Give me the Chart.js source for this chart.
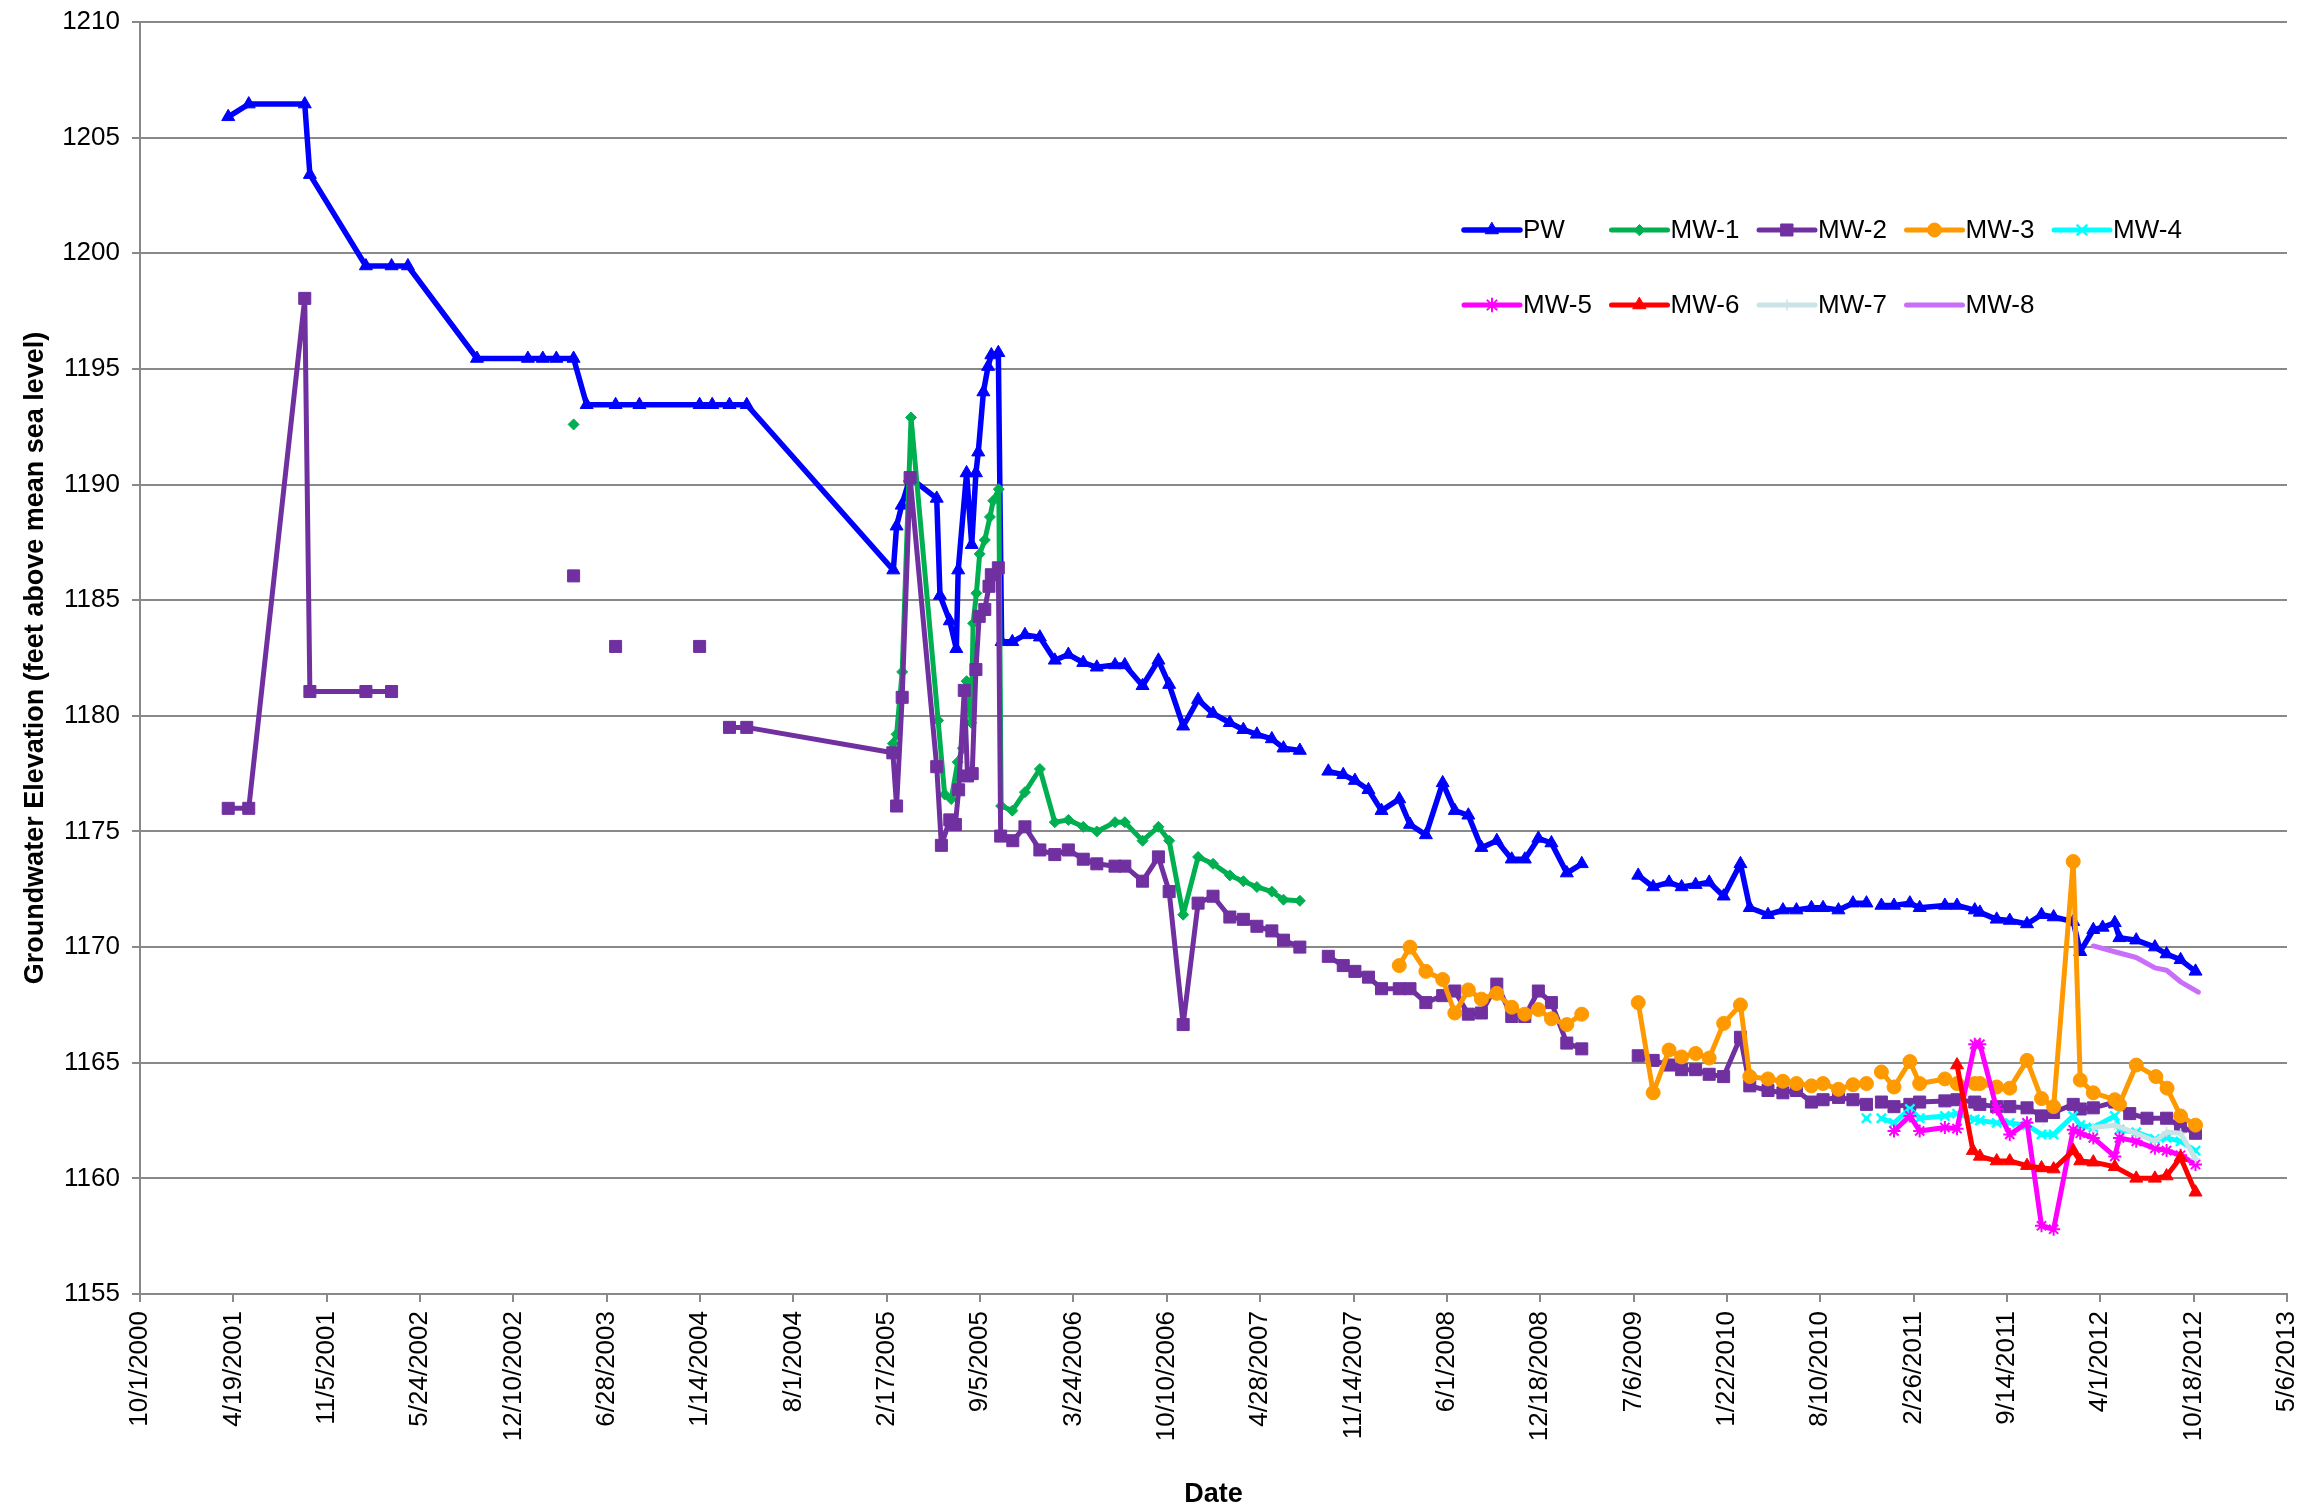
<!DOCTYPE html>
<html>
<head>
<meta charset="utf-8">
<title>Groundwater Elevation</title>
<script src="https://cdn.jsdelivr.net/npm/chart.js@4.4.1/dist/chart.umd.min.js"></script>
<style>
  html, body { margin: 0; padding: 0; background: #ffffff; }
  #wrap { width: 2309px; height: 1511px; }
</style>
</head>
<body>
<div id="wrap"><canvas id="chart" width="2309" height="1511"></canvas></div>
<script>
// ---- Axis tick labels (every 200 days) ----
const xTickLabels = ['10/1/2000','4/19/2001','11/5/2001','5/24/2002','12/10/2002','6/28/2003',
  '1/14/2004','8/1/2004','2/17/2005','9/5/2005','3/24/2006','10/10/2006','4/28/2007',
  '11/14/2007','6/1/2008','12/18/2008','7/6/2009','1/22/2010','8/10/2010','2/26/2011',
  '9/14/2011','4/1/2012','10/18/2012','5/6/2013'];
const yMin = 1155, yMax = 1210, yStep = 5;

// ---- PW ----
const pwDates = ['2001-04-08','2001-05-22','2001-09-19','2001-09-30','2002-01-28','2002-03-24','2002-04-28',
  '2002-09-23','2003-01-10','2003-02-11','2003-03-12','2003-04-18','2003-05-16','2003-07-17','2003-09-06',
  '2004-01-13','2004-02-09','2004-03-17','2004-04-23','2005-03-03','2005-03-10','2005-03-21','2005-04-08',
  '2005-06-04','2005-06-11','2005-07-02','2005-07-16','2005-07-20','2005-08-07','2005-08-18','2005-08-27',
  '2005-09-01','2005-09-12','2005-09-22','2005-09-29','2005-10-14','2005-10-21','2005-11-13','2005-12-10',
  '2006-01-11','2006-02-12','2006-03-13','2006-04-14','2006-05-13','2006-06-21','2006-07-12','2006-08-19',
  '2006-09-22','2006-10-15','2006-11-14','2006-12-16','2007-01-17','2007-02-22','2007-03-23','2007-04-21',
  '2007-05-23','2007-06-17','2007-07-22','2007-08-21','2007-09-21','2007-10-23','2007-11-17','2007-12-16',
  '2008-01-13','2008-02-20','2008-03-14','2008-04-17','2008-05-23','2008-06-18','2008-07-17','2008-08-14',
  '2008-09-16','2008-10-18','2008-11-15','2008-12-14','2009-01-11','2009-02-13','2009-03-17','2009-05-15',
  '2009-07-16','2009-08-17','2009-09-20','2009-10-17','2009-11-16','2009-12-15','2010-01-15','2010-02-20',
  '2010-03-12','2010-04-20','2010-05-22','2010-06-20','2010-07-22','2010-08-16','2010-09-18','2010-10-19',
  '2010-11-17','2010-12-03','2010-12-19','2011-01-15','2011-02-18','2011-03-11','2011-05-04','2011-05-30',
  '2011-07-07','2011-07-18','2011-08-23','2011-09-20','2011-10-27','2011-11-27','2011-12-23','2012-02-03',
  '2012-02-18','2012-03-17','2012-04-06','2012-05-02','2012-05-12','2012-06-17','2012-07-27','2012-08-21',
  '2012-09-20','2012-10-22'];
const pwLevels = [1205.9,1206.45,1206.45,1203.4,1199.45,1199.45,1199.45,
  1195.45,1195.45,1195.45,1195.45,1195.45,1193.45,1193.45,1193.45,
  1193.45,1193.45,1193.45,1193.45,1186.3,1188.2,1189.1,1190.3,
  1189.4,1185.2,1184.1,1182.9,1186.3,1190.5,1187.4,1190.5,
  1191.4,1194.0,1195.1,1195.6,1195.7,1183.2,1183.2,1183.5,
  1183.4,1182.4,1182.65,1182.3,1182.1,1182.2,1182.2,1181.3,
  1182.4,1181.35,1179.55,1180.7,1180.1,1179.7,1179.4,1179.2,
  1179.0,1178.6,1178.5,null,1177.6,1177.45,1177.2,1176.8,
  1175.9,1176.4,1175.3,1174.85,1177.1,1175.9,1175.7,1174.3,
  1174.6,1173.8,1173.8,1174.7,1174.5,1173.2,1173.6,null,
  1173.1,1172.6,1172.8,1172.6,1172.7,1172.8,1172.2,1173.6,
  1171.7,1171.4,1171.6,1171.6,1171.7,1171.7,1171.6,1171.9,
  1171.9,null,1171.8,1171.8,1171.9,1171.7,1171.8,1171.8,
  1171.6,1171.5,1171.2,1171.15,1171.0,1171.4,1171.3,1171.1,
  1169.8,1170.75,1170.85,1171.05,1170.4,1170.3,1170.0,1169.7,
  1169.45,1168.95];

// ---- MW-1 ----
const mw1Dates = ['2003-04-18','2004-04-23','2005-03-02','2005-03-10','2005-03-22','2005-04-10','2005-06-07',
  '2005-06-21','2005-07-05','2005-07-19','2005-07-30','2005-08-07','2005-08-17','2005-08-21','2005-08-28',
  '2005-09-04','2005-09-15','2005-09-26','2005-10-03','2005-10-15','2005-10-20','2005-11-13','2005-12-10',
  '2006-01-11','2006-02-12','2006-03-13','2006-04-14','2006-05-13','2006-06-21','2006-07-12','2006-08-19',
  '2006-09-22','2006-10-15','2006-11-14','2006-12-16','2007-01-17','2007-02-22','2007-03-23','2007-04-21',
  '2007-05-23','2007-06-17','2007-07-22'];
const mw1Levels = [1192.6,null,1178.8,1179.2,1181.9,1192.9,1179.8,
  1176.6,1176.4,1178.0,1178.6,1181.5,1179.7,1184.0,1185.3,
  1187.0,1187.6,1188.6,1189.3,1189.8,1176.1,1175.9,1176.7,
  1177.7,1175.4,1175.5,1175.2,1175.0,1175.4,1175.4,1174.6,
  1175.2,1174.6,1171.4,1173.9,1173.6,1173.1,1172.85,1172.6,
  1172.4,1172.05,1172.0];

// ---- MW-2 ----
const mw2Dates = ['2001-04-08','2001-05-22','2001-09-19','2001-09-30','2002-01-28','2002-03-24','2002-09-23',
  '2003-04-18','2003-05-16','2003-07-17','2003-09-06','2004-01-13','2004-02-09','2004-03-17','2004-04-23',
  '2005-03-02','2005-03-10','2005-03-22','2005-04-08','2005-06-04','2005-06-14','2005-07-02','2005-07-14',
  '2005-07-21','2005-08-02','2005-08-09','2005-08-19','2005-08-27','2005-09-03','2005-09-15','2005-09-24',
  '2005-09-29','2005-10-14','2005-10-19','2005-11-14','2005-12-10','2006-01-11','2006-02-12','2006-03-13',
  '2006-04-14','2006-05-13','2006-06-21','2006-07-12','2006-08-19','2006-09-22','2006-10-15','2006-11-14',
  '2006-12-16','2007-01-17','2007-02-22','2007-03-23','2007-04-21','2007-05-23','2007-06-17','2007-07-22',
  '2007-08-21','2007-09-21','2007-10-23','2007-11-17','2007-12-16','2008-01-13','2008-02-20','2008-03-14',
  '2008-04-17','2008-05-23','2008-06-18','2008-07-17','2008-08-14','2008-09-16','2008-10-18','2008-11-15',
  '2008-12-14','2009-01-11','2009-02-13','2009-03-17','2009-05-15','2009-07-16','2009-08-17','2009-09-20',
  '2009-10-17','2009-11-16','2009-12-15','2010-01-15','2010-02-20','2010-03-12','2010-04-20','2010-05-22',
  '2010-06-20','2010-07-22','2010-08-16','2010-09-18','2010-10-19','2010-11-17','2010-12-03','2010-12-19',
  '2011-01-15','2011-02-18','2011-03-11','2011-05-04','2011-05-30','2011-07-07','2011-07-18','2011-08-23',
  '2011-09-20','2011-10-27','2011-11-27','2011-12-23','2012-02-03','2012-02-18','2012-03-17','2012-05-02',
  '2012-06-03','2012-07-10','2012-08-21','2012-09-20','2012-10-22'];
const mw2Levels = [1176.0,1176.0,1198.05,1181.05,1181.05,1181.05,null,
  1186.05,null,1183.0,null,1183.0,null,1179.5,1179.5,
  1178.4,1176.1,1180.8,1190.3,1177.8,1174.4,1175.5,1175.3,
  1176.8,1181.1,1177.4,1177.5,1182.0,1184.3,1184.6,1185.6,
  1186.1,1186.4,1174.8,1174.6,1175.2,1174.2,1174.0,1174.2,
  1173.8,1173.6,1173.5,1173.5,1172.85,1173.9,1172.4,1166.65,
  1171.9,1172.2,1171.3,1171.2,1170.9,1170.7,1170.3,1170.0,
  null,1169.6,1169.2,1168.95,1168.7,1168.2,1168.2,1168.2,
  1167.6,1167.9,1168.1,1167.1,1167.15,1168.4,1167.0,1167.0,
  1168.1,1167.6,1165.85,1165.6,null,1165.3,1165.1,1164.9,
  1164.7,1164.7,1164.5,1164.4,1166.1,1164.0,1163.8,1163.7,
  1163.8,1163.3,1163.4,1163.5,1163.4,1163.2,null,1163.3,
  1163.1,1163.2,1163.3,1163.35,1163.4,1163.3,1163.2,1163.1,
  1163.1,1163.05,1162.7,1162.85,1163.2,1163.0,1163.05,1163.3,
  1162.8,1162.6,1162.6,1162.25,1161.95];

// ---- MW-3 ----
const mw3Dates = ['2008-02-20','2008-03-14','2008-04-17','2008-05-23','2008-06-18','2008-07-17','2008-08-14',
  '2008-09-16','2008-10-18','2008-11-15','2008-12-14','2009-01-11','2009-02-13','2009-03-17','2009-05-15',
  '2009-07-16','2009-08-17','2009-09-20','2009-10-17','2009-11-16','2009-12-15','2010-01-15','2010-02-20',
  '2010-03-12','2010-04-20','2010-05-22','2010-06-20','2010-07-22','2010-08-16','2010-09-18','2010-10-19',
  '2010-11-17','2010-12-03','2010-12-19','2011-01-15','2011-02-18','2011-03-11','2011-05-04','2011-05-30',
  '2011-07-07','2011-07-18','2011-08-23','2011-09-20','2011-10-27','2011-11-27','2011-12-23','2012-02-03',
  '2012-02-18','2012-03-17','2012-05-02','2012-05-12','2012-06-17','2012-07-29','2012-08-22','2012-09-20',
  '2012-10-22'];
const mw3Levels = [1169.2,1170.0,1168.95,1168.6,1167.15,1168.15,1167.75,
  1168.0,1167.4,1167.1,1167.3,1166.9,1166.65,1167.1,null,
  1167.6,1163.7,1165.55,1165.25,1165.4,1165.2,1166.7,1167.5,
  1164.4,1164.3,1164.2,1164.1,1164.0,1164.1,1163.85,1164.05,
  1164.1,null,1164.6,1163.95,1165.05,1164.1,1164.3,1164.1,
  1164.1,1164.1,1163.95,1163.9,1165.1,1163.45,1163.1,1173.7,
  1164.25,1163.7,1163.4,1163.2,1164.9,1164.4,1163.9,1162.7,
  1162.3];

// ---- MW-4 ----
const mw4Dates = ['2010-11-17','2010-12-03','2010-12-19','2011-01-15','2011-02-18','2011-03-11','2011-05-04',
  '2011-05-30','2011-07-07','2011-07-18','2011-08-23','2011-09-20','2011-10-27','2011-11-27','2011-12-23',
  '2012-02-03','2012-02-18','2012-03-17','2012-05-02','2012-05-12','2012-06-17','2012-07-27','2012-08-21',
  '2012-09-20','2012-10-22'];
const mw4Levels = [1162.6,null,1162.6,1162.4,1163.0,1162.6,1162.7,
  1162.8,1162.55,1162.5,1162.4,1162.4,1162.3,1161.9,1161.9,
  1162.7,1162.3,1162.2,1162.7,1162.1,1162.0,1161.7,1161.75,
  1161.6,1161.2];

// ---- MW-5 ----
const mw5Dates = ['2011-01-15','2011-02-18','2011-03-11','2011-05-04','2011-05-30','2011-07-07','2011-07-18',
  '2011-08-23','2011-09-20','2011-10-27','2011-11-27','2011-12-23','2012-02-03','2012-02-18','2012-03-17',
  '2012-05-02','2012-05-12','2012-06-17','2012-07-27','2012-08-21','2012-09-20','2012-10-22'];
const mw5Levels = [1162.05,1162.7,1162.05,1162.2,1162.15,1165.8,1165.8,
  1163.0,1161.9,1162.4,1157.95,1157.8,1162.1,1161.95,1161.75,
  1160.95,1161.75,1161.6,1161.3,1161.2,1161.0,1160.6];

// ---- MW-6 ----
const mw6Dates = ['2011-05-30','2011-07-03','2011-07-18','2011-08-23','2011-09-20','2011-10-27','2011-11-27',
  '2011-12-23','2012-02-03','2012-02-18','2012-03-17','2012-05-02','2012-06-17','2012-07-27','2012-08-21',
  '2012-09-20','2012-10-22'];
const mw6Levels = [1164.9,1161.2,1160.95,1160.75,1160.75,1160.55,1160.45,
  1160.4,1161.2,1160.75,1160.7,1160.5,1160.0,1160.0,1160.1,
  1160.9,1159.4];

// ---- MW-7 ----
const mw7Dates = ['2012-03-17','2012-05-02','2012-06-17','2012-07-27','2012-08-21','2012-09-20','2012-10-22'];
const mw7Levels = [1162.2,1162.3,1161.95,1161.6,1162.0,1161.95,1160.85];

// ---- MW-8 ----
const mw8Dates = ['2012-03-17','2012-05-02','2012-06-17','2012-07-27','2012-08-21','2012-09-20','2012-10-28'];
const mw8Levels = [1170.05,1169.8,1169.55,1169.1,1169.0,1168.5,1168.05];

// ---- helpers ----
const DAY = 86400000;
function isoToDay(s) { const p = s.split('-').map(Number); return Date.UTC(p[0], p[1] - 1, p[2]) / DAY; }
function mdyToDay(s) { const p = s.split('/').map(Number); return Date.UTC(p[2], p[0] - 1, p[1]) / DAY; }
function points(dates, levels) { return dates.map((d, i) => ({ x: isoToDay(d), y: levels[i] })); }

const xTickValues = xTickLabels.map(mdyToDay);

function series(label, dates, levels, color, style) {
  return Object.assign({
    label: label,
    data: points(dates, levels),
    borderColor: color,
    backgroundColor: color,
    pointBackgroundColor: color,
    pointBorderColor: color,
    borderWidth: 5,
    borderCapStyle: 'round',
    borderJoinStyle: 'round',
    pointBorderWidth: 1,
    pointHoverRadius: 0,
    spanGaps: false,
    tension: 0,
    fill: false
  }, style);
}

const datasets = [
  series('PW',   pwDates,  pwLevels,  '#0000FF', { pointStyle: 'triangle', pointRadius: 7.5, borderWidth: 5.5, order: 9 }),
  series('MW-1', mw1Dates, mw1Levels, '#00B050', { pointStyle: 'rectRot',  pointRadius: 5.5, order: 8 }),
  series('MW-2', mw2Dates, mw2Levels, '#7030A0', { pointStyle: 'rect',     pointRadius: 8.5, order: 7 }),
  series('MW-3', mw3Dates, mw3Levels, '#FF9900', { pointStyle: 'circle',   pointRadius: 7,   order: 6 }),
  series('MW-4', mw4Dates, mw4Levels, '#00FFFF', { pointStyle: 'crossRot', pointRadius: 6.5, pointBorderWidth: 2.5, order: 5 }),
  series('MW-5', mw5Dates, mw5Levels, '#FF00FF', { pointStyle: 'star',     pointRadius: 6.5, pointBorderWidth: 2, order: 4 }),
  series('MW-6', mw6Dates, mw6Levels, '#FF0000', { pointStyle: 'triangle', pointRadius: 7.5, order: 3 }),
  series('MW-7', mw7Dates, mw7Levels, '#C9E3E6', { pointStyle: 'cross',    pointRadius: 5,   pointBorderWidth: 1.5, order: 2 }),
  series('MW-8', mw8Dates, mw8Levels, '#C86EFA', { pointStyle: 'circle',   pointRadius: 0,   order: 1 })
];

// Legend drawn inside the plot, two rows at the upper right
const wellLegend = {
  id: 'wellLegend',
  afterDraw(chart) {
    const ctx = chart.ctx;
    const startX = 1464, colGap = 147.5, rowY = [230, 305], lineLen = 56;
    chart.data.datasets.forEach((ds, i) => {
      const row = i < 5 ? 0 : 1;
      const col = i < 5 ? i : i - 5;
      const x0 = startX + col * colGap;
      const y = rowY[row];
      ctx.save();
      ctx.strokeStyle = ds.borderColor;
      ctx.lineWidth = ds.borderWidth;
      ctx.lineCap = 'round';
      ctx.beginPath();
      ctx.moveTo(x0, y);
      ctx.lineTo(x0 + lineLen, y);
      ctx.stroke();
      if (ds.pointRadius > 0 && Chart.helpers && Chart.helpers.drawPoint) {
        ctx.fillStyle = ds.pointBackgroundColor;
        ctx.strokeStyle = ds.pointBorderColor;
        ctx.lineWidth = ds.pointBorderWidth;
        Chart.helpers.drawPoint(ctx, {
          pointStyle: ds.pointStyle, rotation: 0,
          radius: ds.pointRadius, borderWidth: ds.pointBorderWidth
        }, x0 + lineLen / 2, y);
      }
      ctx.fillStyle = '#000000';
      ctx.font = "26px 'Liberation Sans', Arial, sans-serif";
      ctx.textAlign = 'left';
      ctx.textBaseline = 'middle';
      ctx.fillText(ds.label, x0 + lineLen + 3, y + 1);
      ctx.restore();
    });
  }
};

Chart.defaults.font.family = "'Liberation Sans', Arial, sans-serif";
Chart.defaults.color = '#000000';

const gridGray = '#898989';

new Chart(document.getElementById('chart'), {
  type: 'line',
  data: { datasets: datasets },
  plugins: [wellLegend],
  options: {
    responsive: false,
    devicePixelRatio: 1,
    animation: false,
    events: [],
    layout: { padding: { top: 22, right: 22, bottom: 0, left: 0 } },
    plugins: {
      legend: { display: false },
      tooltip: { enabled: false },
      title: { display: false }
    },
    scales: {
      x: {
        type: 'linear',
        min: xTickValues[0],
        max: xTickValues[xTickValues.length - 1],
        afterBuildTicks(scale) { scale.ticks = xTickValues.map(v => ({ value: v })); },
        afterFit(scale) { scale.height = 217; scale.paddingLeft = 0; scale.paddingRight = 0; },
        ticks: {
          autoSkip: false,
          minRotation: 90,
          maxRotation: 90,
          padding: 9,
          font: { size: 26 },
          color: '#000000',
          callback(value, index) { return xTickLabels[index]; }
        },
        grid: { drawOnChartArea: false, drawTicks: true, tickLength: 8, color: gridGray, lineWidth: 2 },
        border: { display: true, color: gridGray, width: 2 },
        title: {
          display: true, text: 'Date', color: '#000000',
          font: { size: 27, weight: 'bold' },
          padding: { top: 0, bottom: 0 }
        }
      },
      y: {
        type: 'linear',
        min: yMin,
        max: yMax,
        afterFit(scale) { scale.width = 140; scale.paddingTop = 0; scale.paddingBottom = 0; },
        ticks: {
          stepSize: yStep,
          padding: 12,
          font: { size: 26 },
          color: '#000000',
          callback(value) { return String(value); }
        },
        grid: { drawOnChartArea: true, drawTicks: true, tickLength: 8, color: gridGray, lineWidth: 2 },
        border: { display: true, color: gridGray, width: 2 },
        title: {
          display: true, text: 'Groundwater Elevation (feet above mean sea level)', color: '#000000',
          font: { size: 27, weight: 'bold' },
          padding: { top: 19, bottom: 0 }
        }
      }
    }
  }
});
</script>
</body>
</html>
